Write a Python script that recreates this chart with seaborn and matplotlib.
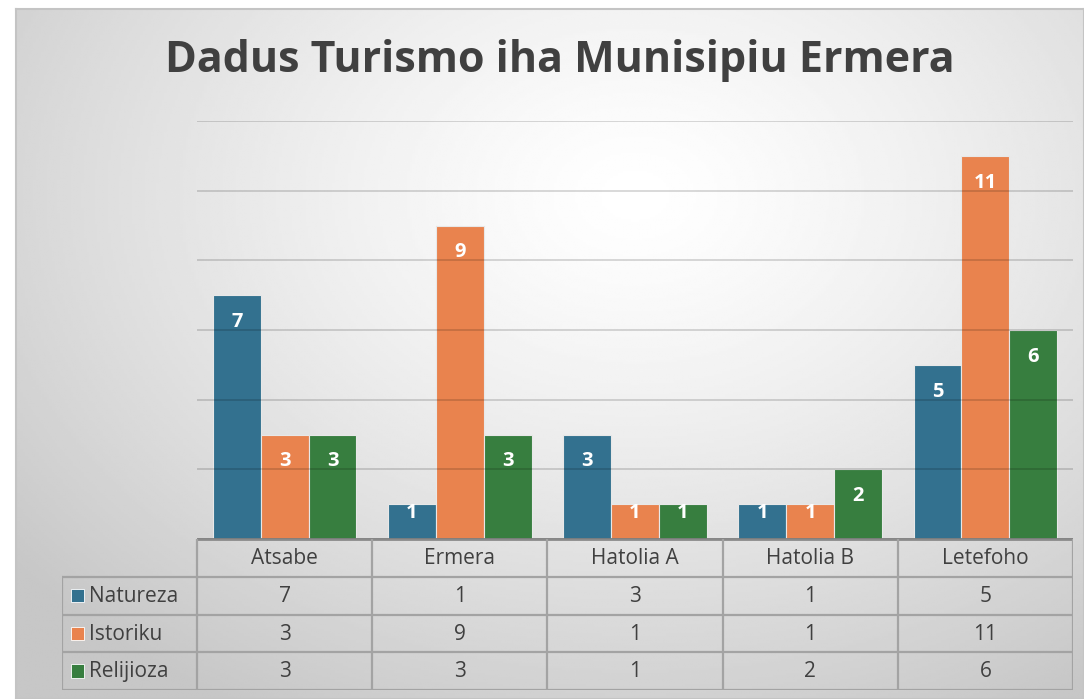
import numpy as np
import pandas as pd
import seaborn as sns
import matplotlib.pyplot as plt
from matplotlib.patches import Rectangle

# data
locations = ['Atsabe', 'Ermera', 'Hatolia A', 'Hatolia B', 'Letefoho']
series = ['Natureza', 'Istoriku', 'Relijioza']
natureza = [7, 1, 3, 1, 5]
istoriku = [3, 9, 1, 1, 11]
relijioza = [3, 3, 1, 2, 6]
colors = ['#33718F', '#E9834E', '#377E3F']
title = 'Dadus Turismo iha Munisipiu Ermera'

values = [natureza, istoriku, relijioza]
df = pd.DataFrame({
    'loc': locations * 3,
    'type': [s for s in series for _ in locations],
    'val': natureza + istoriku + relijioza,
})

sns.set_style('white')
plt.rcParams['font.family'] = ['Open Sans', 'DejaVu Sans']

W, H = 1084, 699
fig = plt.figure(figsize=(W / 100, H / 100), dpi=100)
fig.patch.set_facecolor('white')

# radial gradient background panel
bg = fig.add_axes([16 / W, 0, 1 - 16 / W, (H - 9) / H])
gx, gy = np.meshgrid(np.linspace(0, 1, 400), np.linspace(0, 1, 300))
d = np.sqrt(((gx - 0.58) / 0.75) ** 2 + ((gy - 0.27) / 0.85) ** 2)
shade = 1 - 0.22 * np.clip(d, 0, 1) ** 1.3
bg.imshow(shade, cmap='gray', vmin=0, vmax=1, aspect='auto', extent=(0, 1, 1, 0))
bg.set_xticks([])
bg.set_yticks([])
for s in bg.spines.values():
    s.set_color('#c4c4c4')
    s.set_linewidth(1.5)
bg.set_zorder(-5)

fig.text(560 / W, 1 - 60 / H, title, ha='center', va='center',
         fontsize=31, fontweight='bold', color='#404040')

# bars
ax = fig.add_axes([197 / W, (H - 539) / H, 876 / W, (539 - 121) / H])
ax.patch.set_alpha(0)
sns.barplot(data=df, x='loc', y='val', hue='type', palette=colors, width=0.82,
            saturation=1, edgecolor='#e8e8e8', linewidth=0.8, legend=False, ax=ax)
ax.set_ylim(0, 12)
ax.set_xlim(-0.5, 4.5)
ax.set_yticks(range(0, 13, 2))
ax.yaxis.grid(True, color='black', alpha=0.16, linewidth=1.3)
ax.set_axisbelow(False)
ax.tick_params(left=False, bottom=False, labelleft=False, labelbottom=False)
ax.set_xlabel('')
ax.set_ylabel('')
for s in ax.spines.values():
    s.set_visible(False)
ax.axhline(0, color='#808080', linewidth=2, zorder=4)

for i, vals in enumerate(values):
    for j, v in enumerate(vals):
        xpos = j + (i - 1) * 0.82 / 3
        ypos = v - 0.77 if v >= 2 else v - 0.26
        ax.text(xpos, ypos, str(v), ha='center', va='center', color='white',
                fontsize=14.5, fontweight='bold', zorder=6)

# data table
tab = fig.add_axes([62 / W, (H - 690) / H, (1073 - 62) / W, (690 - 539) / H])
tab.patch.set_alpha(0)
lx = -135 / 175
tab.set_xlim(lx, 5)
tab.set_ylim(4, 0)
tab.axis('off')
lc, lw = '#a3a3a3', 1.6
tab.plot([0, 5], [0, 0], color='#8a8a8a', lw=2)
for r in range(1, 5):
    tab.plot([lx, 5], [r, r], color=lc, lw=lw)
for c in range(0, 6):
    tab.plot([c, c], [0, 4], color=lc, lw=lw)
tab.plot([lx, lx], [1, 4], color=lc, lw=lw)

fs = 15
for j, name in enumerate(locations):
    tab.text(j + 0.5, 0.52, name, ha='center', va='center', fontsize=fs, color='#404040')
for i, (name, vals) in enumerate(zip(series, values)):
    r = i + 1
    tab.add_patch(Rectangle((lx + 9 / 175, r + 0.32), 13 / 175, 0.36,
                            facecolor=colors[i], edgecolor='white', lw=0.6))
    tab.text(lx + 27 / 175, r + 0.52, name, ha='left', va='center', fontsize=fs, color='#404040')
    for j, v in enumerate(vals):
        tab.text(j + 0.5, r + 0.52, str(v), ha='center', va='center', fontsize=fs, color='#404040')

fig.savefig('out.png', dpi=100)
